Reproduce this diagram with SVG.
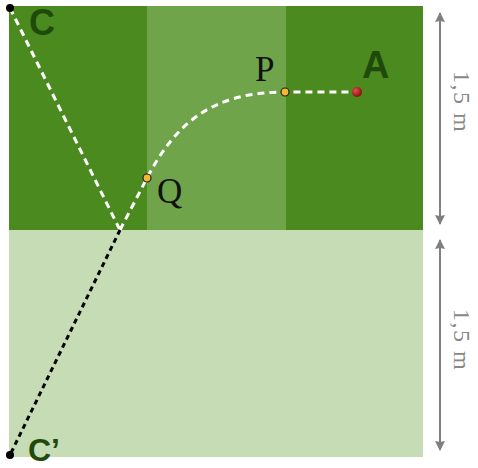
<svg xmlns="http://www.w3.org/2000/svg" width="478" height="468" viewBox="0 0 478 468">
<defs>
<style>
.lbl{font-family:"Liberation Sans",Arial,sans-serif;font-weight:bold;fill:#1f4a0c}
.math{font-family:"Liberation Serif","Times New Roman",serif;fill:#111;font-size:35px}
.dim{font-family:"Liberation Serif","Times New Roman",serif;fill:#888;font-size:24px;letter-spacing:1.5px}
.dimline{stroke:#808080;stroke-width:2;fill:none}
</style>
<marker id="ah" viewBox="0 0 10 15" refX="9" refY="7.5" markerWidth="5" markerHeight="7.5" orient="auto-start-reverse" markerUnits="strokeWidth">
<path d="M0,2.5 L10,7.5 L0,12.5 L1,7.5 z" fill="#808080"/>
</marker>
<radialGradient id="red" cx="0.35" cy="0.35" r="0.7">
<stop offset="0" stop-color="#e05050"/>
<stop offset="1" stop-color="#8a0a0a"/>
</radialGradient>
</defs>
<rect width="478" height="468" fill="#fff"/>
<g id="regions">
<rect x="9" y="6" width="414" height="224" fill="#4a8a1e"/>
<rect x="147" y="6" width="139" height="224" fill="#6fa44a"/>
<rect x="9" y="230" width="414" height="227" fill="#c5dcb5"/>
</g>
<g id="connectors">
<path d="M10,8 L120,230" stroke="#fff" stroke-width="3" stroke-dasharray="7,5" fill="none"/>
<path d="M120,230 L147,178 C175,125 210,92 285,92 L357,92" stroke="#fff" stroke-width="3" stroke-dasharray="7,5" fill="none"/>
<path d="M120,230 L10,455" stroke="#000" stroke-width="3" stroke-dasharray="5,4" fill="none"/>
<line class="dimline" x1="440" y1="13" x2="440" y2="224" marker-start="url(#ah)" marker-end="url(#ah)"/>
<line class="dimline" x1="440" y1="240" x2="440" y2="450" marker-start="url(#ah)" marker-end="url(#ah)"/>
</g>
<g id="C"><circle cx="10" cy="8" r="4" fill="#000"/><text class="lbl" x="29" y="35" font-size="36">C</text></g>
<g id="Cprime"><circle cx="10" cy="455" r="4" fill="#000"/><text class="lbl" x="28" y="461" font-size="32">C’</text></g>
<g id="Q"><circle cx="147" cy="178" r="4" fill="#f5b731" stroke="#222" stroke-width="1.2"/><text class="math" x="157" y="203">Q</text></g>
<g id="P"><circle cx="285" cy="92" r="4" fill="#f5b731" stroke="#222" stroke-width="1.2"/><text class="math" x="255" y="81">P</text></g>
<g id="A"><circle cx="357" cy="92" r="5" fill="url(#red)"/><text class="lbl" x="362" y="78" font-size="38">A</text></g>
<g id="dim1"><text class="dim" transform="translate(454,102) rotate(90)" text-anchor="middle">1,5 m</text></g>
<g id="dim2"><text class="dim" transform="translate(454,340) rotate(90)" text-anchor="middle">1,5 m</text></g>
</svg>
